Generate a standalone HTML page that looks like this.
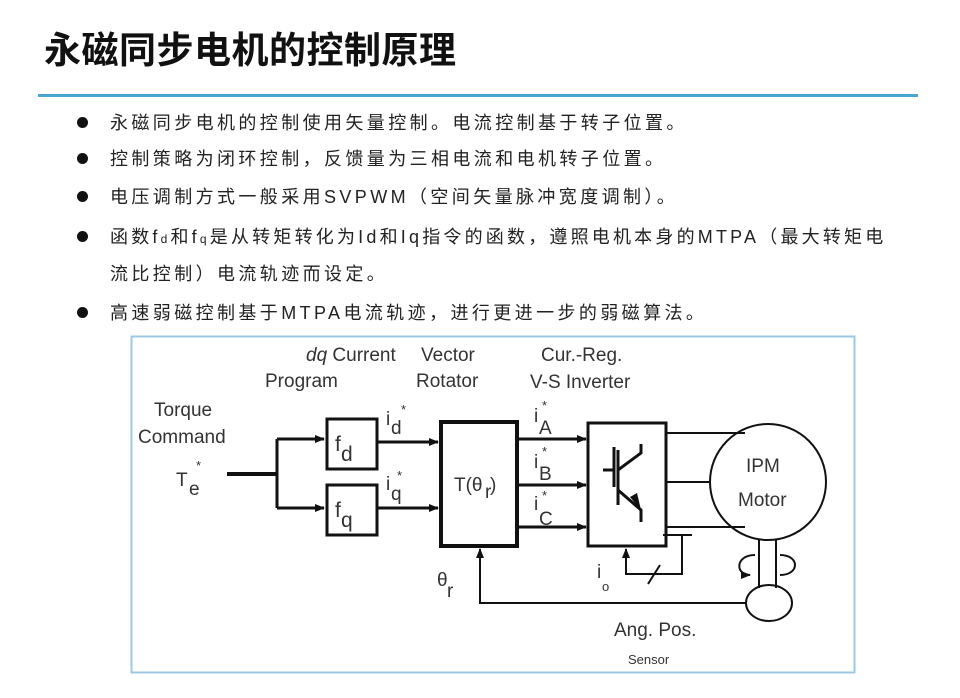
<!DOCTYPE html>
<html><head><meta charset="utf-8"><style>
body{margin:0;width:960px;height:698px;background:#fff;position:relative;overflow:hidden;font-family:"Liberation Sans","Noto Sans CJK SC",sans-serif;}
.t{position:absolute;left:44px;top:20px;font-size:37px;font-weight:bold;letter-spacing:0.5px;color:#111;white-space:nowrap;}
.hr{position:absolute;left:38px;top:94px;width:880px;height:3px;background:#4aa6d0;}
.b{position:absolute;left:110px;font-size:18px;letter-spacing:3.4px;color:#222;white-space:nowrap;line-height:20px;}
.d{position:absolute;left:77px;width:11px;height:11px;border-radius:50%;background:#111;}
svg text{font-family:"Liberation Sans",sans-serif;fill:#333;}
</style></head><body>
<div class="t">永磁同步电机的控制原理</div>
<div class="hr"></div>
<div class="d" style="top:117px"></div><div class="b" style="top:113px">永磁同步电机的控制使用矢量控制。电流控制基于转子位置。</div>
<div class="d" style="top:153px"></div><div class="b" style="top:149px">控制策略为闭环控制，反馈量为三相电流和电机转子位置。</div>
<div class="d" style="top:191px"></div><div class="b" style="top:187px">电压调制方式一般采用SVPWM（空间矢量脉冲宽度调制）。</div>
<div class="d" style="top:231px"></div><div class="b" style="top:227px;letter-spacing:3.2px">函数f<span style="font-size:12px">d</span>和f<span style="font-size:12px">q</span>是从转矩转化为Id和Iq指令的函数，遵照电机本身的MTPA（最大转矩电</div>
<div class="b" style="top:264px">流比控制）电流轨迹而设定。</div>
<div class="d" style="top:307px"></div><div class="b" style="top:303px">高速弱磁控制基于MTPA电流轨迹，进行更进一步的弱磁算法。</div>
<svg width="960" height="698" style="position:absolute;left:0;top:0">
<defs><marker id="a" markerWidth="10" markerHeight="8" refX="9" refY="4" orient="auto" markerUnits="userSpaceOnUse"><path d="M0,0 L10,4 L0,8 z" fill="#111"/></marker></defs>
<rect x="131.5" y="336.5" width="723" height="336" fill="#fff" stroke="#9cc8e4" stroke-width="2"/>
<g stroke="#111" fill="none">
<path d="M227,474 H277" stroke-width="4"/>
<path d="M277,439 V508" stroke-width="3"/>
<path d="M277,439 H324" stroke-width="3" marker-end="url(#a)"/>
<path d="M277,508 H324" stroke-width="3" marker-end="url(#a)"/>
<rect x="327" y="419" width="50" height="50" stroke-width="3"/>
<rect x="327" y="485" width="50" height="50" stroke-width="3"/>
<path d="M377,442 H438" stroke-width="3" marker-end="url(#a)"/>
<path d="M377,508 H438" stroke-width="3" marker-end="url(#a)"/>
<rect x="441" y="422" width="76" height="124" stroke-width="4"/>
<path d="M517,439 H586" stroke-width="3" marker-end="url(#a)"/>
<path d="M517,485 H586" stroke-width="3" marker-end="url(#a)"/>
<path d="M517,527 H586" stroke-width="3" marker-end="url(#a)"/>
<rect x="588" y="423" width="78" height="123" stroke-width="3"/>
<path d="M666,433 H745 M666,482 H710 M666,527 H745" stroke-width="2"/>
<circle cx="768" cy="482" r="58" stroke-width="2"/>
<path d="M759,540 V588 M776,540 V588" stroke-width="2"/>
<ellipse cx="769" cy="603" rx="23" ry="18" stroke-width="2"/>
<path d="M746,603 H480 V549" stroke-width="2" marker-end="url(#a)"/>
<path d="M663,535 H692 M682,535 V574 H626 V549" stroke-width="2" marker-end="url(#a)"/>
<path d="M648,584 L660,565" stroke-width="2"/>
<path d="M755,555 C735,555 735,575 750,575" stroke-width="2" marker-end="url(#a)"/>
<path d="M780,555 C800,555 800,575 780,575" stroke-width="2"/>
<path d="M614,447 V487 M603,470 H614 M618,450 V505 M618,470 L641,453 V444 M618,490 L641,510 V522" stroke-width="3"/>
</g>
<path d="M641,510 L630,497 L637,493 z" fill="#111"/>
<g font-size="19">
<text x="306" y="361"><tspan font-style="italic">dq</tspan> Current</text>
<text x="265" y="387">Program</text>
<text x="421" y="361">Vector</text>
<text x="416" y="387">Rotator</text>
<text x="541" y="361">Cur.-Reg.</text>
<text x="530" y="388">V-S Inverter</text>
<text x="154" y="416">Torque</text>
<text x="138" y="443">Command</text>
<text x="746" y="472">IPM</text>
<text x="738" y="506">Motor</text>
<text x="614" y="636">Ang. Pos.</text>
<text x="628" y="664" font-size="13" fill="#999">Sensor</text>
<text x="176" y="486">T</text><text x="189" y="495">e</text><text x="196" y="470" font-size="13">*</text>
<text x="335" y="451" font-size="21">f</text><text x="341" y="461" font-size="21">d</text>
<text x="335" y="517" font-size="21">f</text><text x="341" y="527" font-size="21">q</text>
<text x="386" y="425">i</text><text x="391" y="434">d</text><text x="401" y="414" font-size="13">*</text>
<text x="386" y="490">i</text><text x="391" y="500">q</text><text x="397" y="480" font-size="13">*</text>
<text x="454" y="491">T(θ</text><text x="485" y="498">r</text><text x="490" y="491">)</text>
<text x="534" y="422">i</text><text x="539" y="434">A</text><text x="542" y="410" font-size="13">*</text>
<text x="534" y="468">i</text><text x="539" y="480">B</text><text x="542" y="456" font-size="13">*</text>
<text x="534" y="510">i</text><text x="539" y="525">C</text><text x="542" y="500" font-size="13">*</text>
<text x="437" y="586">θ</text><text x="447" y="597">r</text>
<text x="597" y="578">i</text><text x="602" y="591" font-size="13">o</text>
</g>
</svg>
</body></html>
